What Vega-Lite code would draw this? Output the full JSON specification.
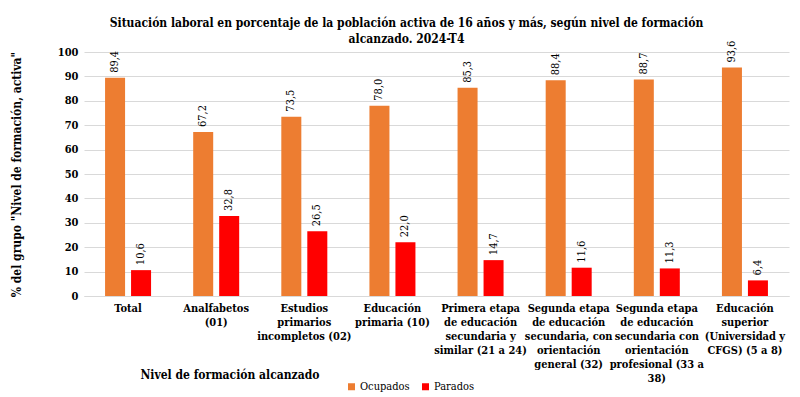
{
  "$schema": "https://vega.github.io/schema/vega-lite/v6.json",
  "autosize": "none",
  "width": 705,
  "height": 244,
  "padding": {"left": 84, "top": 52, "right": 11, "bottom": 101},
  "background": "white",
  "config": {
    "locale": {"number": {"decimal": ",", "thousands": ".", "grouping": [3], "currency": ["", " €"]}},
    "font": "DejaVu Serif Condensed",
    "view": {"stroke": null},
    "axis": {"labelFont": "DejaVu Serif Condensed", "titleFont": "DejaVu Serif Condensed"},
    "legend": {"labelFont": "DejaVu Serif Condensed"},
    "title": {"font": "DejaVu Serif Condensed"},
    "text": {"font": "DejaVu Serif Condensed"}
  },
  "title": {
    "text": ["Situación laboral en porcentaje de la población activa de 16 años y más, según nivel de formación", "alcanzado. 2024-T4"],
    "font": "DejaVu Serif Condensed",
    "fontSize": 12,
    "fontWeight": "bold",
    "color": "#000000",
    "anchor": "middle",
    "dx": -30,
    "dy": 14,
    "offset": 9,
    "lineHeight": 16
  },
  "data": {
    "values": [
      {"nivel": "Total", "situacion": "Ocupados", "valor": 89.4},
      {"nivel": "Total", "situacion": "Parados", "valor": 10.6},
      {"nivel": "Analfabetos\n(01)", "situacion": "Ocupados", "valor": 67.2},
      {"nivel": "Analfabetos\n(01)", "situacion": "Parados", "valor": 32.8},
      {"nivel": "Estudios\nprimarios\nincompletos (02)", "situacion": "Ocupados", "valor": 73.5},
      {"nivel": "Estudios\nprimarios\nincompletos (02)", "situacion": "Parados", "valor": 26.5},
      {"nivel": "Educación\nprimaria (10)", "situacion": "Ocupados", "valor": 78.0},
      {"nivel": "Educación\nprimaria (10)", "situacion": "Parados", "valor": 22.0},
      {"nivel": "Primera etapa\nde educación\nsecundaria y\nsimilar (21 a 24)", "situacion": "Ocupados", "valor": 85.3},
      {"nivel": "Primera etapa\nde educación\nsecundaria y\nsimilar (21 a 24)", "situacion": "Parados", "valor": 14.7},
      {"nivel": "Segunda etapa\nde educación\nsecundaria, con\norientación\ngeneral (32)", "situacion": "Ocupados", "valor": 88.4},
      {"nivel": "Segunda etapa\nde educación\nsecundaria, con\norientación\ngeneral (32)", "situacion": "Parados", "valor": 11.6},
      {"nivel": "Segunda etapa\nde educación\nsecundaria con\norientación\nprofesional (33 a\n38)", "situacion": "Ocupados", "valor": 88.7},
      {"nivel": "Segunda etapa\nde educación\nsecundaria con\norientación\nprofesional (33 a\n38)", "situacion": "Parados", "valor": 11.3},
      {"nivel": "Educación\nsuperior\n(Universidad y\nCFGS) (5 a 8)", "situacion": "Ocupados", "valor": 93.6},
      {"nivel": "Educación\nsuperior\n(Universidad y\nCFGS) (5 a 8)", "situacion": "Parados", "valor": 6.4}
    ]
  },
  "encoding": {
    "x": {
      "field": "nivel",
      "type": "nominal",
      "sort": null,
      "scale": {"paddingInner": 0.478, "paddingOuter": 0.239},
      "axis": {
        "title": "Nivel de formación alcanzado",
        "titleFont": "DejaVu Serif Condensed",
        "titleFontSize": 12,
        "titleFontWeight": "bold",
        "titleColor": "#000000",
        "titleAnchor": "start",
        "titleAlign": "left",
        "titleX": 56,
        "titleY": 73,
        "titleBaseline": "top",
        "labelFont": "DejaVu Serif Condensed",
        "labelExpr": "split(datum.label, '\\n')",
        "labelAngle": 0,
        "labelFontSize": 11,
        "labelFontWeight": "bold",
        "labelColor": "#000000",
        "labelLineHeight": 14,
        "labelPadding": 6,
        "labelLimit": 0,
        "ticks": false,
        "domainColor": "#D9D9D9",
        "grid": false
      }
    },
    "xOffset": {"field": "situacion", "type": "nominal", "scale": {"paddingInner": 0.23, "paddingOuter": 0}},
    "y": {
      "field": "valor",
      "type": "quantitative",
      "scale": {"domain": [0, 100]},
      "axis": {
        "values": [0, 10, 20, 30, 40, 50, 60, 70, 80, 90, 100],
        "format": "d",
        "title": "% del grupo \"Nivel de formación, activa\"",
        "titleFont": "DejaVu Serif Condensed",
        "titleFontSize": 12,
        "titleFontWeight": "bold",
        "titleColor": "#000000",
        "titlePadding": 34,
        "labelFont": "DejaVu Serif Condensed",
        "labelFontSize": 11,
        "labelFontWeight": "bold",
        "labelColor": "#000000",
        "labelPadding": 6,
        "ticks": false,
        "domain": false,
        "gridColor": "#D9D9D9",
        "gridWidth": 1
      }
    }
  },
  "layer": [
    {
      "mark": {"type": "bar"},
      "encoding": {
        "color": {
          "field": "situacion",
          "type": "nominal",
          "scale": {"domain": ["Ocupados", "Parados"], "range": ["#ED7D31", "#FF0000"]},
          "legend": {
            "title": null,
            "orient": "none",
            "direction": "horizontal",
            "legendX": 262,
            "legendY": 329,
            "symbolType": "square",
            "symbolSize": 49,
            "symbolStrokeWidth": 0,
            "labelFont": "DejaVu Serif Condensed",
            "labelFontSize": 11,
            "labelColor": "#000000",
            "columnPadding": 10,
            "labelOffset": 3
          }
        }
      }
    },
    {
      "mark": {"type": "text", "angle": 270, "align": "left", "baseline": "middle", "dx": 5, "fontSize": 11, "font": "DejaVu Serif Condensed", "color": "#000000"},
      "encoding": {"text": {"field": "valor", "type": "quantitative", "format": ".1f"}}
    }
  ]
}
